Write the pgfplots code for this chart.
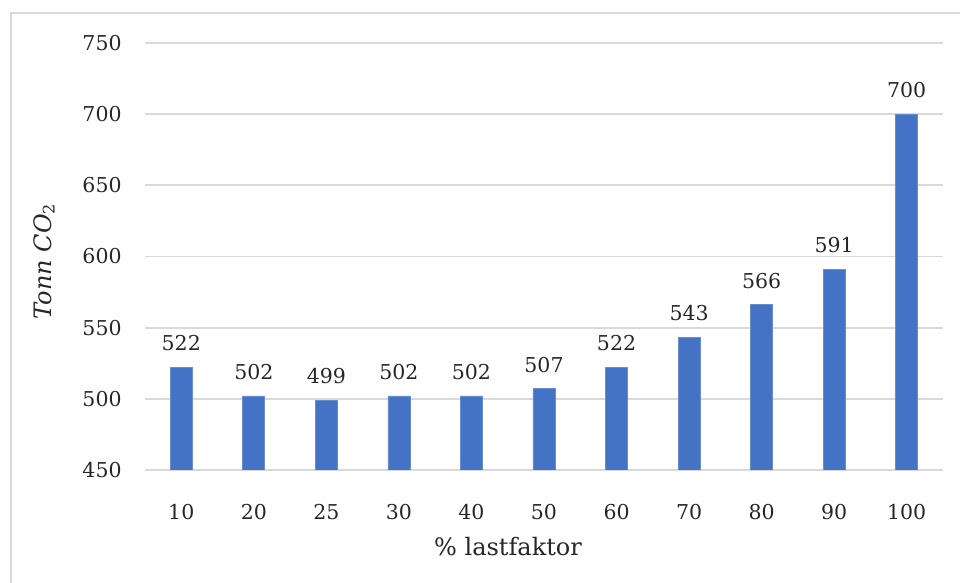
\documentclass[border=0pt]{standalone}
\usepackage{fontspec}
\setmainfont{DejaVu Serif}
\usepackage{pgfplots}
\pgfplotsset{compat=1.18}
\definecolor{barblue}{HTML}{4472C4}
\definecolor{gridgray}{HTML}{D9D9D9}
\definecolor{txt}{HTML}{262626}
\begin{document}
\begin{tikzpicture}
\useasboundingbox (-72.5pt,-56.5pt) rectangle (407.5pt,235pt);
% chart frame
\draw[gridgray, line width=1pt] (-67pt,-56.5pt) -- (-67pt,228.5pt) -- (407.5pt,228.5pt);
\begin{axis}[
  at={(0,0)}, anchor=south west,
  scale only axis,
  width=399pt, height=213.5pt,
  xmin=-0.5, xmax=10.5,
  ymin=450, ymax=750,
  ytick={450,500,...,750},
  xtick=data,
  xticklabels={10,20,25,30,40,50,60,70,80,90,100},
  ymajorgrids,
  grid style={gridgray, line width=0.9pt},
  axis line style={draw=none},
  tick style={draw=none},
  /pgf/number format/assume math mode=true,
  ticklabel style={font=\fontsize{10.25}{12}\selectfont, text=txt},
  yticklabel style={anchor=east, inner sep=0pt, xshift=-11.5pt},
  xticklabel style={anchor=north, inner sep=0pt, yshift=-12.5pt},
  xlabel={\% lastfaktor},
  ylabel={{\itshape Tonn CO}\textsubscript{2}},
  every axis x label/.style={at={(axis description cs:0.455,0)}, anchor=center, yshift=-38.5pt, font=\fontsize{12}{14}\selectfont, text=txt},
  every axis y label/.style={at={(axis description cs:-0.1266,0.489)}, rotate=90, anchor=center, font=\fontsize{12}{14}\selectfont, text=txt},
  ybar, bar width=11pt,
  nodes near coords,
  nodes near coords style={font=\fontsize{10.25}{12}\selectfont, text=txt, anchor=south, inner sep=0pt, yshift=8pt},
]
\addplot[fill=barblue, draw=barblue!80!white, line width=0.4pt] coordinates {
  (0,522) (1,502) (2,499) (3,502) (4,502) (5,507)
  (6,522) (7,543) (8,566) (9,591) (10,700)
};
\end{axis}
\end{tikzpicture}
\end{document}
